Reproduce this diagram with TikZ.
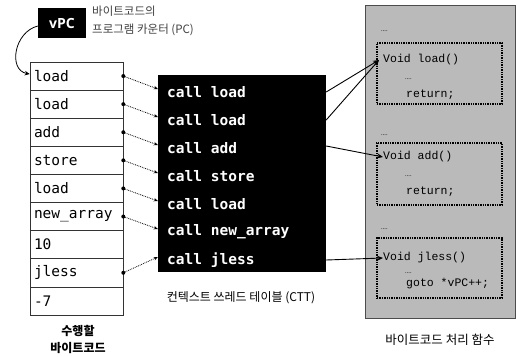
\documentclass[tikz,border=0pt]{standalone}
\usepackage{fontspec}
\setmainfont{Noto Sans}
\newfontfamily\kr{Noto Sans CJK KR}
\newfontfamily\vpcfont{Open Sans}
\newfontfamily\cellmono{DejaVu Sans Mono}
\newfontfamily\codemono{Liberation Mono}
\usetikzlibrary{arrows.meta}
\begin{document}
\begin{tikzpicture}[x=1pt,y=-1pt,
  cell/.style={draw=black!80, line width=0.6pt, minimum width=93pt, minimum height=28.1pt, text width=85pt, align=left, inner sep=0pt, font=\cellmono\fontsize{14.5}{16}\selectfont},
  row/.style={anchor=west, text=white, inner sep=0pt, font=\cellmono\bfseries\fontsize{14.5}{16}\selectfont},
  ptr/.style={densely dotted, line width=0.8pt, -{Stealth[length=4pt,width=3.5pt]}},
  fbox/.style={draw=black, densely dotted, line width=1.4pt, minimum width=125pt},
  code/.style={anchor=west, inner sep=0pt, font=\codemono\fontsize{11.5}{13}\selectfont},
  tinydots/.style={anchor=west, inner sep=0pt, font=\fontsize{6}{6}\selectfont},
  link/.style={line width=0.9pt, -{Stealth[length=6pt,width=5pt]}},
  captext/.style={font=\kr\fontsize{12}{15}\selectfont, align=center}
]
\useasboundingbox (0,0) rectangle (516,356);

% vPC
\node[fill=black, text=white, minimum width=48pt, minimum height=30pt, inner sep=0pt, font=\vpcfont\bfseries\fontsize{14}{16}\selectfont] (vpc) at (62,23) {vPC};
\node[anchor=west, align=left, text=black!75, inner sep=0pt, font=\kr\fontsize{11.5}{18}\selectfont] (pclab) at (92,21) {바이트코드의\\프로그램 카운터 (PC)};

% bytecode cells
\foreach \t [count=\i] in {load,load,add,store,load,new\_array,10,jless,-7}{
  \node[cell] (b\i) at (76.5,{62+28.1*(\i-0.5)}) {\t};
}
\node[captext, font=\kr\bfseries\fontsize{12}{17}\selectfont] (bcap) at (78,339) {수행할\\바이트코드};

% CTT
\node[fill=black, minimum width=168pt, minimum height=197pt, inner sep=0pt] (ctt) at (242,173.5) {};
\node[row] (r1) at (167,92) {call load};
\node[row] (r2) at (167,120) {call load};
\node[row] (r3) at (167,148) {call add};
\node[row] (r4) at (167,176) {call store};
\node[row] (r5) at (167,204) {call load};
\node[row] (r6) at (167,232) {call new\_array};
\node[row] (r7) at (167,260) {call jless};
\node[captext] (ccap) at (241,298) {컨텍스트 쓰레드 테이블 (CTT)};

% pointers from cells to CTT
\foreach \b/\r in {1/1,2/2,3/3,4/4,5/5,6/6,8/7}{
  \fill (b\b.east) circle (2pt);
  \draw[ptr] (b\b.east) -- ([yshift=3pt]r\r.west -| ctt.west);
}

% function panel
\node[fill=black!27, draw=black!70, line width=0.6pt, minimum width=150pt, minimum height=313pt, inner sep=0pt] (panel) at (440,161.5) {};
\node[tinydots] (d0) at (381,31) {....};
\node[fbox, minimum height=61pt] (fload) at (439.5,73.5) {};
\node[code] (l1) at (383,60) {Void load()};
\node[tinydots] (l2) at (405,79) {....};
\node[code] (l3) at (406,95) {return;};
\node[tinydots] (d1) at (381,135) {....};
\node[fbox, minimum height=62pt] (fadd) at (439.5,174) {};
\node[code] (a1) at (383,157) {Void add()};
\node[tinydots] (a2) at (405,176) {....};
\node[code] (a3) at (406,192) {return;};
\node[tinydots] (d2) at (381,229) {....};
\node[fbox, minimum height=60pt] (fjless) at (439.5,268) {};
\node[code] (j1) at (383,258) {Void jless()};
\node[tinydots] (j2) at (405,273) {....};
\node[code] (j3) at (406,284) {goto *vPC++;};
\node[captext, font=\kr\fontsize{12.5}{15}\selectfont] (fcap) at (440,340) {바이트코드 처리 함수};

% links CTT -> functions
\coordinate (t1) at (379,60);
\draw[link] (r1 -| ctt.east) -- (t1);
\draw[link] (r2 -| ctt.east) -- (t1);
\draw[link] ([yshift=2pt]r3 -| ctt.east) -- (a1.west);
\draw[link] (r7 -| ctt.east) -- (j1.west);

% vPC -> first cell
\draw[line width=0.8pt, -{Stealth[length=5pt,width=4.5pt]}] ([yshift=-3pt]vpc.west) .. controls (14,32) and (8,70) .. ([yshift=2pt]b1.west);
\end{tikzpicture}
\end{document}
